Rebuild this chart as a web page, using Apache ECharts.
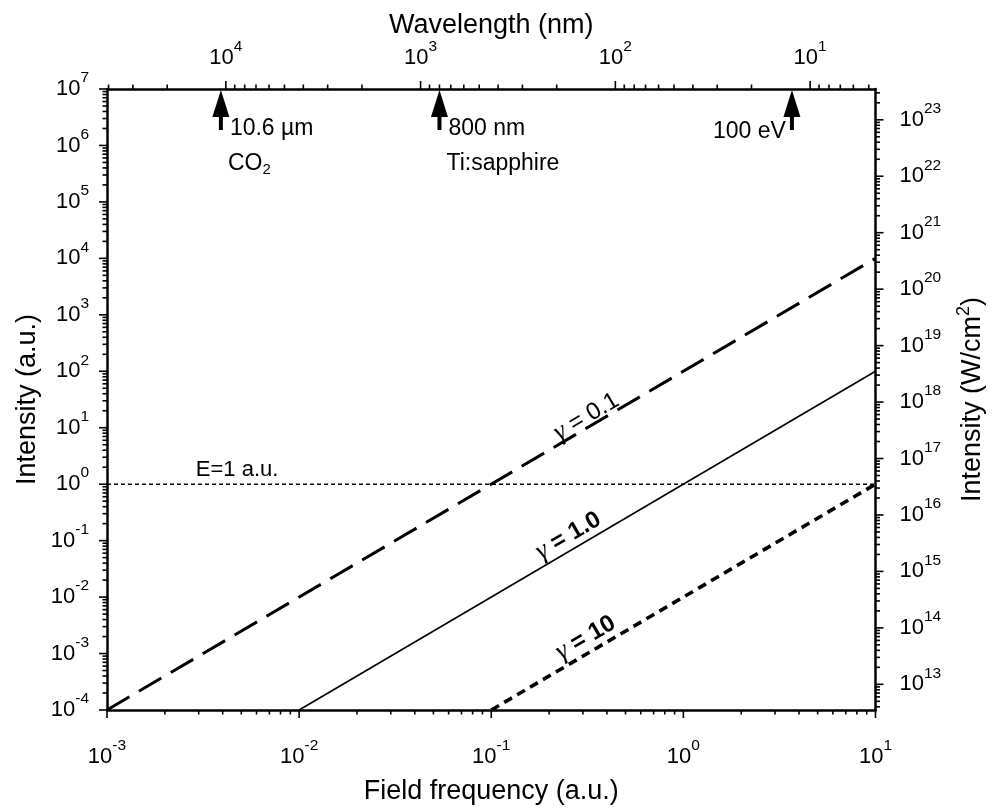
<!DOCTYPE html>
<html>
<head>
<meta charset="utf-8">
<script src="https://cdn.jsdelivr.net/npm/echarts@6/dist/echarts.min.js"></script>
<style>
  html, body { margin: 0; padding: 0; background: #fff; }
  #chart { width: 994px; height: 810px; }
</style>
</head>
<body>
<div id="chart"></div>
<script>
// Keldysh parameter lines: peak intensity (a.u.) against field frequency (a.u.)
const gamma01Freq = [1e-3, 10];
const gamma01Int  = [1e-4, 1e4];
const gamma1Freq  = [1e-2, 10];
const gamma1Int   = [1e-4, 1e2];
const gamma10Freq = [1e-1, 10];
const gamma10Int  = [1e-4, 1];
const atomicFieldFreq = [1e-3, 10];
const atomicFieldInt  = [1, 1];

// Axis extents
const freqExtent = [1e-3, 10];
const intensityExtent = [1e-4, 1e7];
const intensityWcm2Extent = [3.51e12, 3.51e23];
const wavelengthExtent = [4.617, 40740];   // nm; the wavelength axis runs right-to-left

// Light sources marked on the wavelength axis
const sourceWavelengths = [10600, 800, 12.4];
const sourceLine1 = ['10.6 µm', '800 nm', '100 eV'];
const sourceLine2 = ['CO{sub|2}', 'Ti:sapphire', ''];
const sourceSide  = ['right', 'right', 'left'];

// Labels written along the lines (anchor frequency, anchor intensity)
const lineLabelText = ['{g|γ} = 0.1', '{g|γ} = 1.0', '{g|γ} = 10'];
const lineLabelFreq = [0.313, 0.252, 0.31];
const lineLabelInt  = [15.6, 0.122, 1.9e-3];
const lineLabelBold = [false, true, true];

const fieldLabelText = 'E=1 a.u.';
const fieldLabelFreq = 0.0029;
const fieldLabelInt  = 1;

const FONT = '"Liberation Sans", Arial, Helvetica, sans-serif';
const GREEK = '"Liberation Serif", "DejaVu Serif", serif';
const minorMultipliers = [2, 3, 4, 5, 6, 7, 8, 9];

function decadeTicks(lo, hi) {
  const major = [], minor = [];
  const k0 = Math.floor(Math.log10(lo)), k1 = Math.ceil(Math.log10(hi));
  for (let k = k0; k <= k1; k++) {
    const p = Math.pow(10, k);
    if (p >= lo * 0.999999 && p <= hi * 1.000001) major.push(p);
    minorMultipliers.forEach(m => { const v = m * p; if (v > lo && v < hi) minor.push(v); });
  }
  return { major, minor };
}

function powLabel(v) {
  const e = Math.log10(v);
  const k = Math.round(e);
  if (Math.abs(e - k) > 1e-6) return '';
  return '{b|10}{s|' + k + '}';
}
function expLabel(v) {
  const k = Math.round(v);
  if (Math.abs(v - k) > 1e-6) return '';
  return '{b|10}{s|' + k + '}';
}

const tickRich = {
  b: { fontSize: 22, fontFamily: FONT, color: '#000' },
  s: { fontSize: 15.5, fontFamily: FONT, color: '#000', padding: [0, 0, 22, 0] }
};
const nameStyle = { fontSize: 27, fontFamily: FONT, color: '#000',
  rich: { s: { fontSize: 18, fontFamily: FONT, color: '#000', padding: [0, 0, 16, 0] } } };
const axisLine = { show: true, lineStyle: { color: '#000', width: 2.5 } };

const fTicks = decadeTicks(freqExtent[0], freqExtent[1]);
const iTicks = decadeTicks(intensityExtent[0], intensityExtent[1]);
const wTicks = decadeTicks(wavelengthExtent[0], wavelengthExtent[1]);
const rTicks = decadeTicks(intensityWcm2Extent[0], intensityWcm2Extent[1]);

const MAJOR = 8, MINOR = 4.5;

// tick marks drawn outward from each frame edge
function tickSeries(edge, items, xAxisIndex, yAxisIndex) {
  return {
    type: 'custom', coordinateSystem: 'cartesian2d', xAxisIndex, yAxisIndex,
    silent: true, clip: false, z: 5,
    data: items,
    renderItem(params, api) {
      const p = api.coord([api.value(0), api.value(1)]);
      const len = api.value(2);
      let x2 = p[0], y2 = p[1];
      if (edge === 'left') x2 -= len;
      if (edge === 'right') x2 += len;
      if (edge === 'bottom') y2 += len;
      if (edge === 'top') y2 -= len;
      return { type: 'line', shape: { x1: p[0], y1: p[1], x2, y2 },
               style: { stroke: '#000', lineWidth: 1.6 } };
    }
  };
}

const leftTickData = iTicks.major.map(v => [freqExtent[0], v, MAJOR])
  .concat(iTicks.minor.map(v => [freqExtent[0], v, MINOR]));
const bottomTickData = fTicks.major.map(v => [v, intensityExtent[0], MAJOR])
  .concat(fTicks.minor.map(v => [v, intensityExtent[0], MINOR]));
const topTickData = wTicks.major.map(v => [v, intensityExtent[1], MAJOR])
  .concat(wTicks.minor.map(v => [v, intensityExtent[1], MINOR]));
const rightTickData = rTicks.major.map(v => [freqExtent[1], Math.log10(v), MAJOR])
  .concat(rTicks.minor.map(v => [freqExtent[1], Math.log10(v), MINOR]));

function pairs(xs, ys) { return xs.map((x, i) => [x, ys[i]]); }

const chart = echarts.init(document.getElementById('chart'));
chart.setOption({
  animation: false,
  backgroundColor: '#fff',
  grid: { left: 107, right: 111, top: 89, bottom: 94, containLabel: false },
  xAxis: [
    { type: 'log', logBase: 10, position: 'bottom', min: freqExtent[0], max: freqExtent[1],
      axisLine, axisTick: { show: false }, splitLine: { show: false }, minorTick: { show: false },
      axisLabel: { formatter: powLabel, rich: tickRich, margin: 28, showMinLabel: true, showMaxLabel: true },
      name: 'Field frequency (a.u.)', nameLocation: 'middle', nameGap: 68, nameMoveOverlap: false,
      nameTextStyle: nameStyle },
    { type: 'log', logBase: 10, position: 'top', inverse: true,
      min: wavelengthExtent[0], max: wavelengthExtent[1],
      axisLine, axisTick: { show: false }, splitLine: { show: false }, minorTick: { show: false },
      axisLabel: { formatter: powLabel, rich: tickRich, margin: 12 },
      name: 'Wavelength (nm)', nameLocation: 'middle', nameGap: 50, nameMoveOverlap: false,
      nameTextStyle: nameStyle }
  ],
  yAxis: [
    { type: 'log', logBase: 10, position: 'left', min: intensityExtent[0], max: intensityExtent[1], interval: 1,
      axisLine, axisTick: { show: false }, splitLine: { show: false }, minorTick: { show: false },
      axisLabel: { formatter: powLabel, rich: tickRich, margin: 18 },
      name: 'Intensity (a.u.)', nameLocation: 'middle', nameGap: 66, nameRotate: 90, nameMoveOverlap: false,
      nameTextStyle: nameStyle },
    { type: 'value', position: 'right',
      min: Math.log10(intensityWcm2Extent[0]), max: Math.log10(intensityWcm2Extent[1]), splitNumber: 11,
      axisLine, axisTick: { show: false }, splitLine: { show: false },
      axisLabel: { formatter: expLabel, rich: tickRich, margin: 24 },
      name: 'Intensity (W/cm{s|2})', nameLocation: 'middle', nameGap: 80, nameRotate: 90, nameMoveOverlap: false,
      nameTextStyle: nameStyle }
  ],
  series: [
    { name: 'γ = 0.1', type: 'line', symbol: 'none', data: pairs(gamma01Freq, gamma01Int),
      lineStyle: { color: '#000', width: 3, type: [26, 11], cap: 'butt' }, z: 3 },
    { name: 'γ = 1.0', type: 'line', symbol: 'none', data: pairs(gamma1Freq, gamma1Int),
      lineStyle: { color: '#000', width: 1.6, type: 'solid' }, z: 3 },
    { name: 'γ = 10', type: 'line', symbol: 'none', data: pairs(gamma10Freq, gamma10Int),
      lineStyle: { color: '#000', width: 3.6, type: [9, 6], cap: 'butt' }, z: 3 },
    { name: 'E = 1 a.u.', type: 'line', symbol: 'none', data: pairs(atomicFieldFreq, atomicFieldInt),
      lineStyle: { color: '#000', width: 1.5, type: [4, 3], cap: 'butt' }, z: 3 },

    tickSeries('left', leftTickData, 0, 0),
    tickSeries('bottom', bottomTickData, 0, 0),
    tickSeries('top', topTickData, 1, 0),
    tickSeries('right', rightTickData, 0, 1),

    // labels along the γ lines, turned to the lines' slope on screen
    { type: 'custom', coordinateSystem: 'cartesian2d', xAxisIndex: 0, yAxisIndex: 0, silent: true, clip: false, z: 6,
      data: lineLabelFreq.map((f, i) => [f, lineLabelInt[i]]),
      renderItem(params, api) {
        const i = params.dataIndex;
        const p = api.coord([api.value(0), api.value(1)]);
        const a = api.coord([1, 1]), b = api.coord([10, 100]);
        const ang = Math.atan2(a[1] - b[1], b[0] - a[0]);
        const weight = lineLabelBold[i] ? 'bold' : 'normal';
        return { type: 'text', x: p[0], y: p[1], rotation: ang,
          style: { text: lineLabelText[i], fill: '#000', align: 'center', verticalAlign: 'middle',
                   fontFamily: FONT, fontSize: 24, fontWeight: weight,
                   rich: { g: { fontFamily: GREEK, fontSize: 27, fontWeight: 'normal', fontStyle: 'italic', fill: '#000' } } } };
      } },

    // label over the E = 1 a.u. line
    { type: 'custom', coordinateSystem: 'cartesian2d', xAxisIndex: 0, yAxisIndex: 0, silent: true, clip: false, z: 6,
      data: [[fieldLabelFreq, fieldLabelInt]],
      renderItem(params, api) {
        const p = api.coord([api.value(0), api.value(1)]);
        return { type: 'text', x: p[0], y: p[1] - 3,
          style: { text: fieldLabelText, fill: '#000', align: 'left', verticalAlign: 'bottom',
                   fontFamily: FONT, fontSize: 22 } };
      } },

    // arrows marking light sources on the wavelength axis
    { type: 'custom', coordinateSystem: 'cartesian2d', xAxisIndex: 1, yAxisIndex: 0, silent: true, clip: false, z: 6,
      data: sourceWavelengths.map(w => [w, intensityExtent[1]]),
      renderItem(params, api) {
        const i = params.dataIndex;
        const p = api.coord([api.value(0), api.value(1)]);
        const x = p[0], y = p[1];
        const onLeft = sourceSide[i] === 'left';
        const children = [
          { type: 'polygon', shape: { points: [[x, y + 1], [x - 8.5, y + 28], [x + 8.5, y + 28]] }, style: { fill: '#000' } },
          { type: 'rect', shape: { x: x - 2, y: y + 26, width: 4, height: 15 }, style: { fill: '#000' } },
          { type: 'text', x: onLeft ? x - 6 : x + 9, y: y + (onLeft ? 43 : 40),
            style: { text: sourceLine1[i], fill: '#000', align: onLeft ? 'right' : 'left', verticalAlign: 'middle',
                     fontFamily: FONT, fontSize: 23 } }
        ];
        if (sourceLine2[i]) {
          children.push({ type: 'text', x: x + 7, y: y + 75,
            style: { text: sourceLine2[i], fill: '#000', align: 'left', verticalAlign: 'middle',
                     fontFamily: FONT, fontSize: 23,
                     rich: { sub: { fontFamily: FONT, fontSize: 15, padding: [12, 0, 0, 0] } } } });
        }
        return { type: 'group', children };
      } }
  ]
});
</script>
</body>
</html>
